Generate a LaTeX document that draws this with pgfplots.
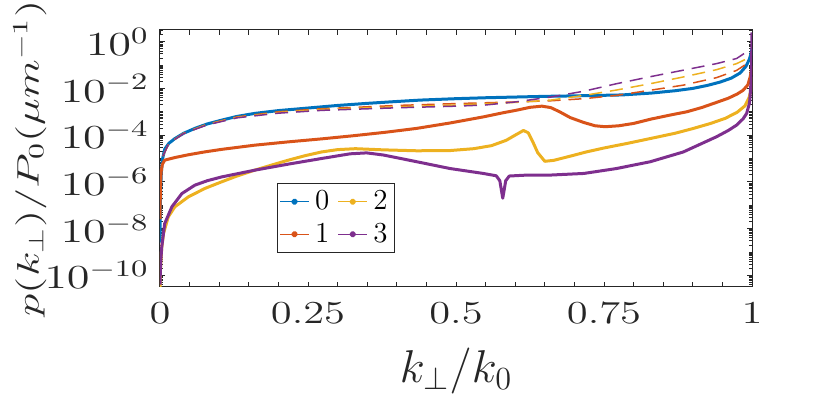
\RequirePackage{fix-cm}
\documentclass[border=0pt]{standalone}
\usepackage{pgfplots}
\pgfplotsset{compat=1.18}
\usepackage{graphicx}
\definecolor{c0}{rgb}{0,0.447,0.741}
\definecolor{c1}{rgb}{0.850,0.325,0.098}
\definecolor{c2}{rgb}{0.929,0.694,0.125}
\definecolor{c3}{rgb}{0.494,0.184,0.556}
\definecolor{axc}{rgb}{0.15,0.15,0.15}
\newcommand\tl[1]{\scalebox{1.33}[1]{$#1$}}
\newcommand\ty[1]{\scalebox{1.45}[1.05]{$#1$}}
\def\myminor{}
\foreach \e in {-11,...,0}{\foreach \m in {2,...,9}{\xdef\myminor{\myminor\m e\e,}}}
\edef\tmp{\noexpand\pgfplotsset{myminor/.style={minor ytick={\myminor 1e-11,1e-9,1e-7,1e-5,1e-3,1e-1}}}}\tmp
\begin{document}
\begin{tikzpicture}
\begin{axis}[
 name=ax, scale only axis, width=296pt, height=128.5pt,
 xmin=0, xmax=1, ymode=log, ymin=3.1623e-11, ymax=3.1623,
 xtick={0,0.05,0.1,0.15,0.2,0.25,0.3,0.35,0.4,0.45,0.5,0.55,0.6,0.65,0.7,0.75,0.8,0.85,0.9,0.95,1},
 xticklabels={\tl{0},,,,,\tl{0.25},,,,,\tl{0.5},,,,,\tl{0.75},,,,,\tl{1}},
 ytick={1e-10,1e-8,1e-6,1e-4,1e-2,1},
 yticklabels={\ty{10^{-10}},\ty{10^{-8}},\ty{10^{-6}},\ty{10^{-4}},\ty{10^{-2}},\ty{10^{0}}},
 myminor,
 tick align=inside, major tick length=2.4pt, minor tick length=1.6pt,
 tick style={axc, line width=0.4pt},
 axis line style={axc, line width=0.5pt},
 tick label style={font=\fontsize{16}{19}\selectfont, text=axc},
 xticklabel style={yshift=-4.5pt},
 yticklabel style={xshift=-2pt},
 xlabel={$k_\perp/k_0$},
 xlabel style={font=\fontsize{23}{27}\selectfont, text=axc, at={(axis description cs:0.5,0)}, anchor=base, yshift=-48pt},
 ylabel={\scalebox{1.46}[1]{$p(k_\perp)/P_0(\mu m^{-1})$}},
 ylabel style={font=\fontsize{15.5}{18}\selectfont, text=axc, at={(axis description cs:-0.2196,0.5)}, anchor=center},
 legend columns=2, transpose legend,
 legend cell align=left,
 legend style={at={(axis description cs:0.1976,0.4047)}, anchor=north west, draw=axc, line width=0.5pt,
   font=\fontsize{14.5}{16}\selectfont, inner sep=1pt,
   nodes={inner sep=2.7pt},
   /tikz/every even column/.append style={column sep=1.5pt}},
 legend image code/.code={\draw[#1,line width=0.6pt] (0pt,0pt) -- (14.5pt,0pt); \fill[#1] (7.25pt,0pt) circle (0.9pt);},
 every axis plot/.append style={line join=round},
]
% mode 0
\addplot[c0, line width=1.5pt] coordinates {
(0,2.512e-9)(0.0005,3.981e-8)(0.001,3.162e-7)(0.002,1.995e-6)(0.004,8.913e-6)(0.008,2.512e-5)
(0.015,4.467e-5)(0.025,7.079e-5)(0.04,1.202e-4)(0.06,1.995e-4)(0.08,3.02e-4)(0.104,4.365e-4)
(0.13,6.31e-4)(0.16,8.511e-4)(0.2,1.122e-3)(0.25,1.445e-3)(0.3,1.862e-3)(0.35,2.291e-3)
(0.4,2.754e-3)(0.44,3.162e-3)(0.5,3.631e-3)(0.55,3.981e-3)(0.6,4.266e-3)(0.65,4.571e-3)
(0.7,4.786e-3)(0.78,5.248e-3)(0.83,6.31e-3)(0.87,7.943e-3)(0.9,1e-2)(0.925,1.349e-2)
(0.946,1.862e-2)(0.965,2.754e-2)(0.98,4.571e-2)(0.99,8.913e-2)(0.995,1.66e-1)(0.998,2.818e-1)(1.0,5.012e-1)};
% mode 1
\addplot[c1, line width=1.5pt] coordinates {
(0,2.512e-8)(0.0005,2.512e-7)(0.001,1e-6)(0.002,2.818e-6)(0.004,5.623e-6)(0.008,8.511e-6)
(0.025,1.096e-5)(0.048,1.445e-5)(0.075,1.905e-5)(0.104,2.455e-5)(0.16,3.715e-5)(0.216,5.129e-5)
(0.273,6.918e-5)(0.325,9.333e-5)(0.38,1.318e-4)(0.434,1.95e-4)(0.49,3.311e-4)(0.546,6.026e-4)
(0.58,9.12e-4)(0.603,1.175e-3)(0.625,1.549e-3)(0.645,1.738e-3)(0.66,1.514e-3)(0.675,1e-3)
(0.693,5.623e-4)(0.716,3.467e-4)(0.735,2.512e-4)(0.752,2.291e-4)(0.775,2.512e-4)(0.8,3.162e-4)
(0.83,4.898e-4)(0.86,7.079e-4)(0.89,1e-3)(0.915,1.514e-3)(0.94,2.512e-3)(0.96,3.802e-3)
(0.975,5.754e-3)(0.985,8.318e-3)(0.993,1.413e-2)(0.997,3.162e-2)(1.0,8.913e-2)};
% mode 2
\addplot[c2, line width=1.5pt] coordinates {
(0,3.162e-11)(0.001,2.512e-10)(0.003,1.585e-9)(0.006,6.31e-9)(0.014,3.162e-8)(0.025,8.511e-8)
(0.048,2.291e-7)(0.076,5.248e-7)(0.104,1e-6)(0.13,1.778e-6)(0.16,3.162e-6)(0.19,5.37e-6)
(0.217,8.511e-6)(0.245,1.318e-5)(0.273,1.905e-5)(0.3,2.399e-5)(0.33,2.63e-5)(0.377,2.344e-5)
(0.434,2.138e-5)(0.49,2.188e-5)(0.53,2.63e-5)(0.56,3.548e-5)(0.585,6.026e-5)(0.6,1e-4)
(0.614,1.585e-4)(0.622,1.259e-4)(0.63,5.012e-5)(0.638,1.778e-5)(0.65,7.586e-6)(0.665,8.318e-6)
(0.693,1.259e-5)(0.72,1.905e-5)(0.75,2.818e-5)(0.79,4.467e-5)(0.833,7.586e-5)(0.87,1.202e-4)
(0.9,1.905e-4)(0.93,3.162e-4)(0.955,5.248e-4)(0.975,9.55e-4)(0.988,1.778e-3)(0.995,3.981e-3)
(0.999,1e-2)(1.0,3.162e-2)};
% mode 3
\addplot[c3, line width=1.5pt] coordinates {
(0,3.981e-11)(0.001,3.162e-10)(0.003,1.66e-9)(0.008,1.66e-8)(0.02,8.511e-8)(0.037,3.162e-7)
(0.059,7.244e-7)(0.08,1.122e-6)(0.104,1.622e-6)(0.16,3.162e-6)(0.217,5.754e-6)(0.273,1e-5)
(0.321,1.585e-5)(0.349,1.738e-5)(0.377,1.413e-5)(0.434,7.244e-6)(0.49,3.715e-6)(0.546,2.291e-6)
(0.568,1.82e-6)(0.574,1.122e-6)(0.579,1.995e-7)(0.584,1.122e-6)(0.59,1.778e-6)(0.62,1.95e-6)
(0.659,1.95e-6)(0.716,2.291e-6)(0.771,3.715e-6)(0.828,7.244e-6)(0.884,1.905e-5)(0.94,8.511e-5)
(0.96,1.585e-4)(0.974,2.692e-4)(0.985,5.012e-4)(0.991,8.511e-4)(0.996,2.512e-3)(0.999,3.162e-2)(1.0,2.512)};
\legend{$0$,$1$,$2$,$3$}
% dashed reference curves
\addplot[c1, line width=0.75pt, dash pattern=on 6.5pt off 4pt, forget plot] coordinates {
(0.005,1.259e-5)(0.015,4.467e-5)(0.04,1.202e-4)(0.08,2.951e-4)(0.13,6.026e-4)(0.2,1e-3)
(0.273,1.349e-3)(0.33,1.549e-3)(0.4,1.862e-3)(0.5,2.239e-3)(0.6,2.63e-3)(0.66,2.951e-3)
(0.716,3.631e-3)(0.771,5.012e-3)(0.828,8.318e-3)(0.884,1.38e-2)(0.94,2.884e-2)(0.974,5.888e-2)(0.992,1.175e-1)};
\addplot[c2, line width=0.75pt, dash pattern=on 6.5pt off 4pt, forget plot] coordinates {
(0.005,1.259e-5)(0.015,4.467e-5)(0.04,1.202e-4)(0.08,2.884e-4)(0.13,5.754e-4)(0.2,9.333e-4)
(0.273,1.259e-3)(0.33,1.413e-3)(0.4,1.622e-3)(0.5,1.95e-3)(0.6,2.512e-3)(0.66,3.162e-3)
(0.716,5.012e-3)(0.771,8.511e-3)(0.828,1.585e-2)(0.884,3.09e-2)(0.94,6.31e-2)(0.974,1.148e-1)(0.992,1.905e-1)};
\addplot[c3, line width=0.75pt, dash pattern=on 6.5pt off 4pt, forget plot] coordinates {
(0.005,1.259e-5)(0.015,4.467e-5)(0.04,1.175e-4)(0.08,2.754e-4)(0.13,5.495e-4)(0.2,8.71e-4)
(0.273,1.148e-3)(0.33,1.288e-3)(0.4,1.479e-3)(0.5,1.738e-3)(0.55,1.95e-3)(0.6,2.63e-3)
(0.66,4.266e-3)(0.716,7.586e-3)(0.771,1.585e-2)(0.828,3.162e-2)(0.884,6.026e-2)(0.94,1.148e-1)(0.974,1.905e-1)(0.992,3.802e-1)};
\end{axis}
\pgfresetboundingbox
\path[use as bounding box] ([xshift=-80pt,yshift=-56.5pt]ax.south west) rectangle ([xshift=39pt,yshift=15pt]ax.north east);
\end{tikzpicture}
\end{document}
